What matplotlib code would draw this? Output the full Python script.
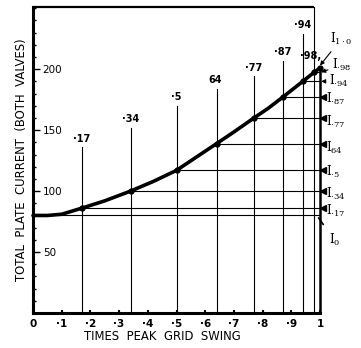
import matplotlib
matplotlib.use('Agg')
import matplotlib.pyplot as plt
from matplotlib.ticker import MultipleLocator

# ---- data ----
curve_x = [0.0, 0.05, 0.1, 0.17, 0.25, 0.34, 0.42, 0.5, 0.57, 0.64, 0.7, 0.77, 0.82, 0.87, 0.94, 0.98, 1.0]
curve_y = [80, 80, 81, 86, 92, 100, 108, 117, 128, 139, 148.5, 160, 168, 177, 190, 197.5, 201]

point_x = [0.17, 0.34, 0.5, 0.64, 0.77, 0.87, 0.94, 0.98, 1.0]
point_y = [86, 100, 117, 139, 160, 177, 190, 197.5, 201]
point_top_labels = ['·17', '·34', '·5', '64', '·77', '·87', '·94', '·98,', None]
point_right_labels = [r'$\mathrm{I}_{\cdot17}$', r'$\mathrm{I}_{\cdot34}$', r'$\mathrm{I}_{\cdot5}$',
                      r'$\mathrm{I}_{64}$', r'$\mathrm{I}_{\cdot77}$', r'$\mathrm{I}_{\cdot87}$',
                      r'$\mathrm{I}_{\cdot94}$', r'$\mathrm{I}_{\cdot98}$', r'$\mathrm{I}_{1\cdot0}$']
i0_value = 80
i0_label = r'$\mathrm{I}_{0}$'

xticks = [0, 0.1, 0.2, 0.3, 0.4, 0.5, 0.6, 0.7, 0.8, 0.9, 1.0]
xtick_labels = ['0', '·1', '·2', '·3', '·4', '·5', '·6', '·7', '·8', '·9', '1']
yticks = [50, 100, 150, 200]
ytick_labels = ['50', '100', '150', '200']

# ---- layout / style ----
vline_tops = [136, 152, 170, 184, 194, 207, 229, 251]   # top of each vertical guide
label_offsets = [0, 0, 0, -0.005, 0, 0, 0, -0.012]
right_label_y = [84, 98, 116, 135, 156.5, 175.5, 190, 203.5, 225]
YTOP = 251

plt.rcParams['mathtext.fontset'] = 'dejavuserif'
fig = plt.figure(figsize=(3.61, 3.48), dpi=100)
ax = fig.add_axes([33/361, 1-313/348, 287/361, 306/348])
ax.set_xlim(0, 1.0)
ax.set_ylim(0, YTOP)

for s in ['top', 'right']:
    ax.spines[s].set_visible(False)
for s in ['left', 'bottom']:
    ax.spines[s].set_linewidth(2.2)

# frame top edge
ax.plot([0, 0.98], [YTOP, YTOP], color='black', lw=1.6, clip_on=False, solid_capstyle='butt')
# right axis at x = 1
ax.plot([1.0, 1.0], [0, point_y[-1]], color='black', lw=1.8, clip_on=False)

# vertical guides and their labels
for x, top, lab, off in zip(point_x[:-1], vline_tops, point_top_labels[:-1], label_offsets):
    ax.plot([x, x], [0, top], color='black', lw=0.8, clip_on=False)
    ty = top + 3 if top < YTOP else 207
    ax.text(x + off, ty, lab, ha='center', va='bottom', fontsize=7, fontweight='bold')

# horizontal guides
ax.plot([0, 1.0], [i0_value, i0_value], color='black', lw=0.8, clip_on=False)
for x, y in zip(point_x[:-1], point_y[:-1]):
    ax.plot([x, 1.0], [y, y], color='black', lw=0.8, clip_on=False)

# main curve
ax.plot(curve_x, curve_y, color='black', lw=2.6, clip_on=False, solid_capstyle='round')
ax.plot(point_x, point_y, 'o', color='black', ms=3.5, clip_on=False)

# right-hand labels with arrows
arrow = dict(arrowstyle='-|>', color='black', lw=0.8, mutation_scale=6, shrinkA=1, shrinkB=0)
for i, (y, lab, ly) in enumerate(zip(point_y, point_right_labels, right_label_y)):
    if i < 6:
        ax.plot([1.012], [y], marker='<', color='black', ms=4, clip_on=False)
        ax.text(1.022, ly, lab, ha='left', va='center', fontsize=8.5)
    elif i == 6:
        ax.annotate(lab, xy=(1.004, y), xytext=(1.03, ly), fontsize=8.5, va='center', ha='left',
                    annotation_clip=False, arrowprops=arrow)
    elif i == 7:
        ax.annotate(lab, xy=(1.004, y), xytext=(1.042, ly), fontsize=8.5, va='center', ha='left',
                    annotation_clip=False, arrowprops=arrow)
    else:
        ax.annotate(lab, xy=(1.0, y + 2), xytext=(1.035, ly), fontsize=8.5, va='center', ha='left',
                    annotation_clip=False,
                    arrowprops=dict(arrow, shrinkA=2))
ax.annotate(i0_label, xy=(0.995, 78), xytext=(1.03, 60), fontsize=8.5, va='center', ha='left',
            annotation_clip=False,
            arrowprops=dict(arrowstyle='-', color='black', lw=1.2, shrinkA=4, shrinkB=0))

# ticks
ax.set_xticks(xticks)
ax.set_xticklabels(xtick_labels, fontsize=7.5, fontweight='bold')
ax.tick_params(axis='x', direction='in', length=2.5, width=1.5, pad=4)
ax.set_yticks(yticks)
ax.set_yticklabels(ytick_labels, fontsize=7.5)
ax.yaxis.set_minor_locator(MultipleLocator(10))
ax.tick_params(axis='y', which='major', direction='in', length=5, width=1.0, pad=-7)
ax.tick_params(axis='y', which='minor', direction='in', length=2, width=1.0)
for t in ax.get_yticklabels():
    t.set_horizontalalignment('left')

fig.text(22/361, 1-160/348, 'TOTAL  PLATE  CURRENT  (BOTH  VALVES)', rotation=90,
         ha='center', va='center', fontsize=8.4)
fig.text(162/361, 1-337/348, 'TIMES  PEAK  GRID  SWING', ha='center', va='center', fontsize=8.4)

fig.savefig('out.png', dpi=100)
